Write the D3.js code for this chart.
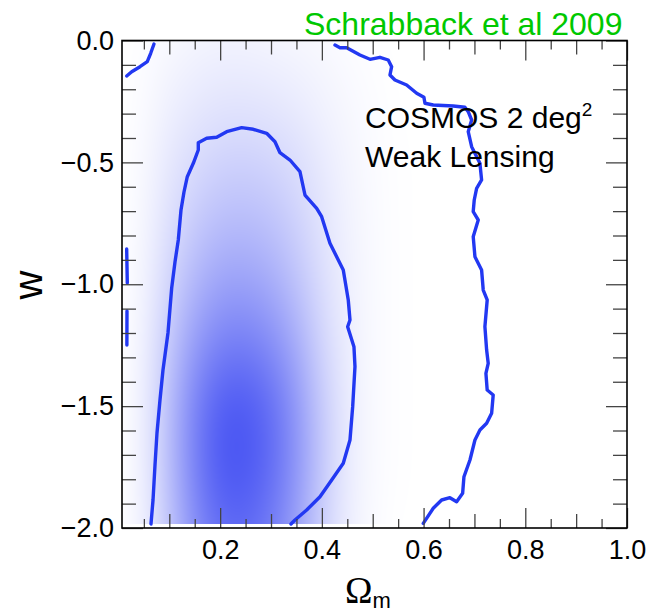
<!DOCTYPE html>
<html>
<head>
<meta charset="utf-8">
<script src="https://cdn.jsdelivr.net/npm/d3@7"></script>
<style>
  html, body { margin: 0; padding: 0; background: #fff; }
  svg { display: block; }
  text { font-family: "Liberation Sans", Arial, Helvetica, sans-serif; }
</style>
</head>
<body>
<svg id="chart" width="649" height="613"></svg>
<script>
// ---------------- data ----------------
const titleText = "Schrabback et al 2009";
const noteLines = ["COSMOS 2 deg", "Weak Lensing"];
const xTickValues = [0.2, 0.4, 0.6, 0.8, 1.0];
const xTickLabels = ["0.2", "0.4", "0.6", "0.8", "1.0"];
const yTickValues = [0.0, -0.5, -1.0, -1.5, -2.0];
const yTickLabels = ["0.0", "\u22120.5", "\u22121.0", "\u22121.5", "\u22122.0"];

// density grid (posterior shading), rows: w, cols: Omega_m
const gridOm = [0, 0.05, 0.10, 0.15, 0.20, 0.25, 0.30, 0.35, 0.40, 0.45, 0.50, 0.55, 0.60];
const gridW = [0, -0.25, -0.5, -0.75, -1.0, -1.25, -1.5, -1.75, -2.0];
const density = [
  [0, 0.01, 0.03, 0.05, 0.06, 0.06, 0.05, 0.04, 0.03, 0.015, 0.005, 0, 0],
  [0, 0.02, 0.07, 0.10, 0.12, 0.12, 0.11, 0.09, 0.06, 0.035, 0.015, 0, 0],
  [0, 0.03, 0.11, 0.17, 0.21, 0.22, 0.20, 0.16, 0.10, 0.05, 0.02, 0.005, 0],
  [0, 0.04, 0.15, 0.25, 0.31, 0.32, 0.29, 0.22, 0.13, 0.06, 0.025, 0.005, 0],
  [0, 0.05, 0.20, 0.35, 0.44, 0.45, 0.40, 0.29, 0.16, 0.07, 0.025, 0.005, 0],
  [0, 0.06, 0.26, 0.48, 0.60, 0.62, 0.55, 0.40, 0.20, 0.08, 0.025, 0.005, 0],
  [0, 0.07, 0.31, 0.60, 0.78, 0.80, 0.70, 0.50, 0.25, 0.09, 0.025, 0.005, 0],
  [0, 0.07, 0.31, 0.61, 0.80, 0.81, 0.71, 0.51, 0.26, 0.09, 0.025, 0.005, 0],
  [0, 0.06, 0.27, 0.54, 0.70, 0.72, 0.63, 0.45, 0.22, 0.08, 0.02, 0, 0]
];

// contour lines [Omega_m, w]
const innerContour = [
  [0.0640,-1.9836],[0.0680,-1.8851],[0.0719,-1.7416],[0.0758,-1.6103],[0.0817,-1.4749],
  [0.0876,-1.3518],[0.0974,-1.2000],[0.1047,-1.0154],[0.1112,-0.9087],[0.1177,-0.8185],
  [0.1230,-0.6954],[0.1289,-0.6216],[0.1354,-0.5588],[0.1472,-0.5038],[0.1570,-0.4492],
  [0.1570,-0.4193],[0.1735,-0.4012],[0.1932,-0.3971],[0.2128,-0.3742],[0.2423,-0.3577],
  [0.2651,-0.3643],[0.2915,-0.3807],[0.3078,-0.4152],[0.3176,-0.4603],[0.3373,-0.4903],
  [0.3569,-0.5383],[0.3668,-0.6339],[0.3898,-0.6884],[0.3996,-0.7229],[0.4159,-0.8320],
  [0.4421,-0.9415],[0.4519,-1.0646],[0.4553,-1.1467],[0.4507,-1.1742],[0.4631,-1.2562],
  [0.4651,-1.3383],[0.4606,-1.5024],[0.4553,-1.6390],[0.4421,-1.7346],[0.4193,-1.8031],
  [0.3963,-1.8716],[0.3701,-1.9262],[0.3471,-1.9672],[0.3393,-1.9836]
];
const outerContour = [
  [0.4258,-0.0185],[0.4356,-0.0295],[0.4488,-0.0295],[0.4749,-0.0595],[0.4946,-0.0771],
  [0.5142,-0.0689],[0.5305,-0.0800],[0.5372,-0.1075],[0.5339,-0.1415],[0.5437,-0.1621],
  [0.5667,-0.1826],[0.5864,-0.2166],[0.6007,-0.2330],[0.6027,-0.2576],[0.6190,-0.2646],
  [0.6583,-0.2687],[0.6813,-0.2741],[0.6878,-0.2921],[0.6945,-0.3262],[0.6878,-0.3742],
  [0.6945,-0.4357],[0.7108,-0.5038],[0.7141,-0.5723],[0.7043,-0.6064],[0.6996,-0.6544],
  [0.6976,-0.7024],[0.7075,-0.7364],[0.6976,-0.8049],[0.7010,-0.8870],[0.7141,-0.9415],
  [0.7173,-1.0236],[0.7251,-1.0646],[0.7206,-1.1742],[0.7240,-1.2698],[0.7271,-1.3243],
  [0.7226,-1.3653],[0.7251,-1.4339],[0.7369,-1.4544],[0.7338,-1.5295],[0.7240,-1.5705],
  [0.7108,-1.5980],[0.7010,-1.6390],[0.6912,-1.7211],[0.6794,-1.7896],[0.6768,-1.8577],
  [0.6650,-1.8921],[0.6518,-1.8757],[0.6355,-1.8851],[0.6190,-1.9192],[0.5994,-1.9808]
];
const cornerContour = [
  [0.0699,-0.0144],[0.0634,-0.0525],[0.0567,-0.0870],[0.0424,-0.1075],[0.0261,-0.1280],[0.0162,-0.1456]
];
const edgeSegment1 = [[0.0162,-0.8554],[0.0174,-0.9949]];
const edgeSegment2 = [[0.0168,-1.1098],[0.0166,-1.2493]];

// ---------------- layout ----------------
const svg = d3.select("#chart");
const L = 122, R = 627, T = 40.5, B = 528;
const x = d3.scaleLinear().domain([0.007, 1.0]).range([L, R]);
const y = d3.scaleLinear().domain([0, -2.0]).range([T, B]);

svg.append("defs").append("clipPath").attr("id", "plotclip")
  .append("rect").attr("x", L).attr("y", T).attr("width", R - L).attr("height", B - T);

// ---------------- density shading ----------------
(function drawDensity() {
  const wMin = -1.985;
  const x0 = Math.round(x(0.007));
  const x1 = Math.round(x(gridOm[gridOm.length - 1]));
  const y0 = Math.round(y(0));
  const y1 = Math.round(y(wMin));
  const W = x1 - x0, H = y1 - y0;
  const canvas = document.createElement("canvas");
  canvas.width = W; canvas.height = H;
  const ctx = canvas.getContext("2d");
  const img = ctx.createImageData(W, H);
  const rowInterp = density.map(r => d3.interpolateBasis(r));
  const omMax = gridOm[gridOm.length - 1], omMin = gridOm[0];
  const wLo = gridW[gridW.length - 1];
  const cInt = d3.interpolateRgb("#ffffff", d3.rgb(30, 45, 240));
  const cols = [];
  for (let i = 0; i < W; i++) {
    const om = x.invert(x0 + i + 0.5);
    const t = Math.max(0, Math.min(1, (om - omMin) / (omMax - omMin)));
    cols.push(d3.interpolateBasis(rowInterp.map(f => f(t))));
  }
  for (let j = 0; j < H; j++) {
    const w = y.invert(y0 + j + 0.5);
    const s = Math.max(0, Math.min(1, w / wLo));
    for (let i = 0; i < W; i++) {
      const v = Math.max(0, Math.min(1, cols[i](s)));
      const c = d3.rgb(cInt(v));
      const k = (j * W + i) * 4;
      img.data[k] = c.r; img.data[k + 1] = c.g; img.data[k + 2] = c.b; img.data[k + 3] = 255;
    }
  }
  ctx.putImageData(img, 0, 0);
  svg.append("image")
    .attr("clip-path", "url(#plotclip)")
    .attr("x", x0).attr("y", y0).attr("width", W).attr("height", H)
    .attr("preserveAspectRatio", "none")
    .attr("href", canvas.toDataURL());
})();

// ---------------- contours ----------------
const line = d3.line().x(d => x(d[0])).y(d => y(d[1])).curve(d3.curveLinear);
const cg = svg.append("g").attr("clip-path", "url(#plotclip)")
  .attr("fill", "none").attr("stroke", "#2238f2").attr("stroke-width", 3.4)
  .attr("stroke-linejoin", "round").attr("stroke-linecap", "round");
[innerContour, outerContour, cornerContour, edgeSegment1, edgeSegment2].forEach(d => {
  cg.append("path").attr("d", line(d));
});

// ---------------- axes ----------------
const minorX = d3.range(0.05, 1.0001, 0.05).filter(v => Math.abs(v * 10 - Math.round(v * 10)) > 1e-6);
const medX = d3.range(0.1, 1.0001, 0.2);
const minorY = d3.range(0, -2.0001, -0.1).filter(v => Math.abs(v * 2 - Math.round(v * 2)) > 1e-6);
const tickColor = "#444";

function styleAxis(g) {
  g.select(".domain").remove();
  g.selectAll(".tick line").attr("stroke", tickColor).attr("stroke-width", 1.3);
  g.selectAll(".tick text").attr("fill", "#000")
    .style("font-family", '"Liberation Sans", Arial, sans-serif').style("font-size", "27px");
}
function noLabels(g) { g.selectAll(".tick text").remove(); }

// bottom
svg.append("g").attr("transform", `translate(0,${B})`)
  .call(d3.axisBottom(x).tickValues(minorX).tickSize(-9).tickFormat(""))
  .call(styleAxis).call(noLabels);
svg.append("g").attr("transform", `translate(0,${B})`)
  .call(d3.axisBottom(x).tickValues(medX).tickSize(-14).tickFormat(""))
  .call(styleAxis).call(noLabels);
svg.append("g").attr("transform", `translate(0,${B})`)
  .call(d3.axisBottom(x).tickValues(xTickValues).tickSize(-20).tickPadding(12)
    .tickFormat((d, i) => xTickLabels[i]))
  .call(styleAxis);
// top
svg.append("g").attr("transform", `translate(0,${T})`)
  .call(d3.axisTop(x).tickValues(minorX).tickSize(-9).tickFormat(""))
  .call(styleAxis).call(noLabels);
svg.append("g").attr("transform", `translate(0,${T})`)
  .call(d3.axisTop(x).tickValues(medX).tickSize(-14).tickFormat(""))
  .call(styleAxis).call(noLabels);
svg.append("g").attr("transform", `translate(0,${T})`)
  .call(d3.axisTop(x).tickValues(xTickValues).tickSize(-20).tickFormat(""))
  .call(styleAxis).call(noLabels);
// left
svg.append("g").attr("transform", `translate(${L},0)`)
  .call(d3.axisLeft(y).tickValues(minorY).tickSize(-14).tickFormat(""))
  .call(styleAxis).call(noLabels);
svg.append("g").attr("transform", `translate(${L},0)`)
  .call(d3.axisLeft(y).tickValues(yTickValues).tickSize(-21).tickPadding(8)
    .tickFormat((d, i) => yTickLabels[i]))
  .call(styleAxis);
// right
svg.append("g").attr("transform", `translate(${R},0)`)
  .call(d3.axisRight(y).tickValues(minorY).tickSize(-14).tickFormat(""))
  .call(styleAxis).call(noLabels);
svg.append("g").attr("transform", `translate(${R},0)`)
  .call(d3.axisRight(y).tickValues(yTickValues).tickSize(-21).tickFormat(""))
  .call(styleAxis).call(noLabels);

// frame
svg.append("rect").attr("x", L).attr("y", T).attr("width", R - L).attr("height", B - T)
  .attr("fill", "none").attr("stroke", "#000").attr("stroke-width", 1.6);

// ---------------- text ----------------
svg.append("text").attr("x", 304).attr("y", 35)
  .attr("fill", "#00c800").style("font-size", "32px").text(titleText);

const note = svg.append("text").attr("x", 365).attr("y", 128).attr("fill", "#000").style("font-size", "30px");
note.append("tspan").text(noteLines[0]);
note.append("tspan").attr("dy", -12).style("font-size", "19px").text("2");
svg.append("text").attr("x", 365).attr("y", 167).attr("fill", "#000").style("font-size", "30px").text(noteLines[1]);

// axis titles
svg.append("text").attr("transform", "translate(42,285) rotate(-90)")
  .attr("text-anchor", "middle").attr("fill", "#000").style("font-size", "40px").text("w");

const xt = svg.append("text").attr("x", 345).attr("y", 603).attr("fill", "#000");
xt.append("tspan").style("font-family", '"Liberation Serif", "Times New Roman", serif').style("font-size", "37px").text("\u03A9");
xt.append("tspan").attr("dy", 5).style("font-size", "22px").text("m");
</script>
</body>
</html>
